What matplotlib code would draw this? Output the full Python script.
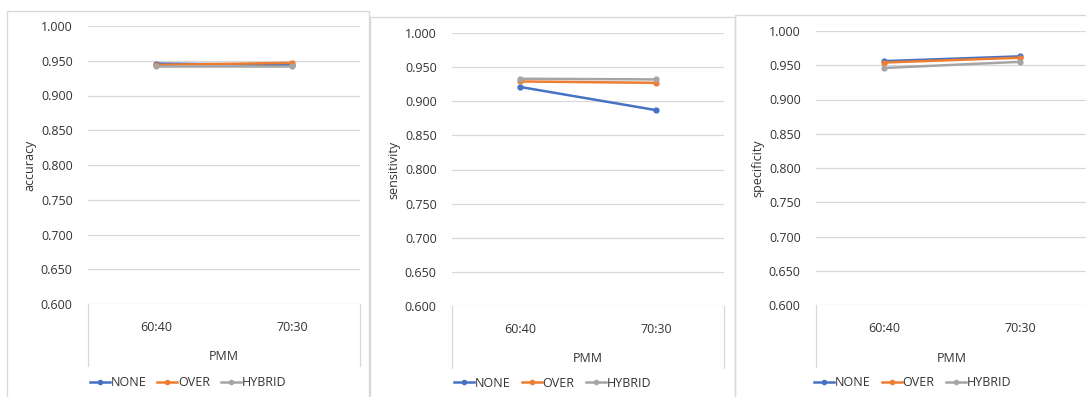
import matplotlib.pyplot as plt
from matplotlib.lines import Line2D
from matplotlib.patches import Rectangle
from matplotlib.ticker import FormatStrFormatter

plt.rcParams['font.family'] = ['Open Sans', 'DejaVu Sans']

categories = ['60:40', '70:30']
series_names = ['NONE', 'OVER', 'HYBRID']
colors = ['#4472C4', '#ED7D31', '#A5A5A5']

accuracy = {'NONE': [0.946, 0.944], 'OVER': [0.944, 0.947], 'HYBRID': [0.943, 0.943]}
sensitivity = {'NONE': [0.921, 0.887], 'OVER': [0.929, 0.927], 'HYBRID': [0.933, 0.932]}
specificity = {'NONE': [0.956, 0.963], 'OVER': [0.954, 0.961], 'HYBRID': [0.946, 0.955]}

W, H = 1086, 397
fig = plt.figure(figsize=(W / 100, H / 100), dpi=100)

text_col = '#333333'
grid_col = '#d9d9d9'
fs = 9

# (data, ylabel, axes box in px: left, top, right, bottom), panel border (left, top, right)
panels = [
    (accuracy, 'accuracy', (88, 26, 360, 304), (7, 11, 369)),
    (sensitivity, 'sensitivity', (452, 33, 724, 306), (370, 17, 735)),
    (specificity, 'specificity', (816, 31, 1088, 305), (735, 15, 1100)),
]

for data, ylabel, (l, t, r, b), (pl, pt, pr) in panels:
    fig.add_artist(Rectangle((pl / W, -0.05), (pr - pl) / W, 1.05 - pt / H,
                             transform=fig.transFigure, fill=False,
                             edgecolor='#d9d9d9', linewidth=1.0))
    ax = fig.add_axes([l / W, 1 - b / H, (r - l) / W, (b - t) / H])
    x = list(range(len(categories)))
    for name, c in zip(series_names, colors):
        ax.plot(x, data[name], color=c, linewidth=1.8, marker='o', markersize=3.5,
                label=name, zorder=3)
    ax.set_xlim(-0.5, 1.5)
    ax.set_ylim(0.6, 1.0)
    ax.set_yticks([0.6, 0.65, 0.7, 0.75, 0.8, 0.85, 0.9, 0.95, 1.0])
    ax.yaxis.set_major_formatter(FormatStrFormatter('%.3f'))
    ax.grid(axis='y', color=grid_col, linewidth=0.9)
    ax.set_axisbelow(True)
    for s in ax.spines.values():
        s.set_visible(False)
    ax.tick_params(axis='y', length=0, pad=11, labelsize=fs, labelcolor=text_col)
    ax.set_xticks(x)
    ax.set_xticklabels(categories)
    ax.tick_params(axis='x', length=0, pad=12, labelsize=fs, labelcolor=text_col)
    ax.set_ylabel(ylabel, fontsize=fs, color=text_col, labelpad=3)

    # multi-level category box below the plot
    hpx = b - t
    depth = 62 / hpx
    ax.plot([0, 0], [0, -depth], transform=ax.transAxes, color=grid_col,
            linewidth=0.9, clip_on=False)
    ax.plot([1, 1], [0, -depth], transform=ax.transAxes, color=grid_col,
            linewidth=0.9, clip_on=False)
    ax.text(0.5, -53 / hpx, 'PMM', transform=ax.transAxes, ha='center', va='center',
            fontsize=fs, color=text_col)

    handles = [Line2D([0], [0], color=c, linewidth=1.8, marker='o', markersize=3)
               for c in colors]
    cx = ((pl + min(pr, W + 4)) / 2 - l) / (r - l)
    ax.legend(handles, series_names, loc='center', bbox_to_anchor=(cx, 1 - (383 - t) / hpx),
              bbox_transform=ax.transAxes, ncol=3, frameon=False, fontsize=fs,
              handlelength=1.6, handletextpad=0.05, columnspacing=0.9,
              labelcolor=text_col, borderpad=0)

fig.savefig('out.png', dpi=100)
